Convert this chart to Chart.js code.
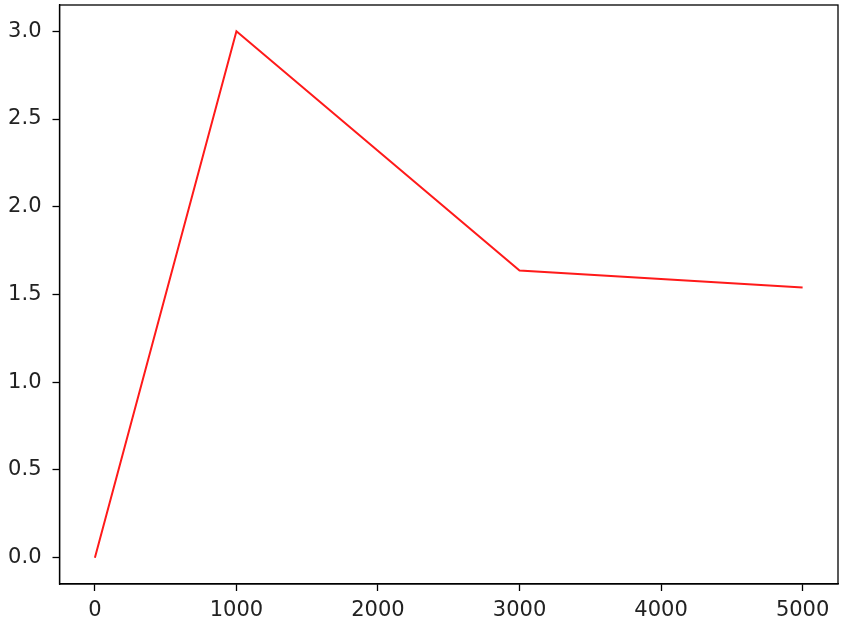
<!DOCTYPE html>
<html>
<head>
<meta charset="utf-8">
<script src="https://cdn.jsdelivr.net/npm/chart.js@4/dist/chart.umd.min.js"></script>
<style>
html,body{margin:0;padding:0;background:#fff;}
canvas{display:block;}
</style>
</head>
<body>
<canvas id="c" width="865" height="642"></canvas>
<script>
const xValues = [0, 1000, 3000, 5000];
const yValues = [0.0, 3.0, 1.637, 1.54];
const xTicks = [0, 1000, 2000, 3000, 4000, 5000];
const yTicks = [0.0, 0.5, 1.0, 1.5, 2.0, 2.5, 3.0];

const FONT = {family: 'DejaVu Sans', size: 21};

const frame = {
  id: 'frame',
  afterDraw(chart) {
    const a = chart.chartArea, ctx = chart.ctx;
    ctx.save();
    ctx.strokeStyle = '#000';
    ctx.lineWidth = 1.3;
    ctx.strokeRect(a.left, a.top, a.right - a.left, a.bottom - a.top);
    ctx.restore();
  }
};

new Chart(document.getElementById('c'), {
  type: 'line',
  data: {
    datasets: [{
      data: xValues.map((x, i) => ({x: x, y: yValues[i]})),
      borderColor: '#ff1a1a',
      borderWidth: 2,
      pointRadius: 0,
      fill: false,
      tension: 0
    }]
  },
  options: {
    responsive: false,
    devicePixelRatio: 1,
    animation: false,
    layout: {padding: {left: 0, top: 5, right: 27, bottom: 0}},
    plugins: {legend: {display: false}, tooltip: {enabled: false}},
    scales: {
      x: {
        type: 'linear',
        min: -250, max: 5250,
        afterBuildTicks: s => { s.ticks = xTicks.map(v => ({value: v})); },
        afterFit: s => { s.height = 58; s.paddingLeft = 0; s.paddingRight = 0; },
        grid: {drawOnChartArea: false, drawTicks: true, tickLength: 7, tickColor: '#000', tickWidth: 1.3},
        border: {display: true, color: '#000', width: 1.3},
        ticks: {color: '#222', font: FONT, padding: 7, maxRotation: 0, callback: v => String(v)}
      },
      y: {
        type: 'linear',
        min: -0.15, max: 3.15,
        afterBuildTicks: s => { s.ticks = yTicks.map(v => ({value: v})); },
        afterFit: s => { s.width = 59.5; s.paddingTop = 0; s.paddingBottom = 0; },
        grid: {drawOnChartArea: false, drawTicks: true, tickLength: 7, tickColor: '#000', tickWidth: 1.3},
        border: {display: true, color: '#000', width: 1.3},
        ticks: {color: '#222', font: FONT, padding: 11, callback: v => Number(v).toFixed(1)}
      }
    }
  },
  plugins: [frame]
});
</script>
</body>
</html>
